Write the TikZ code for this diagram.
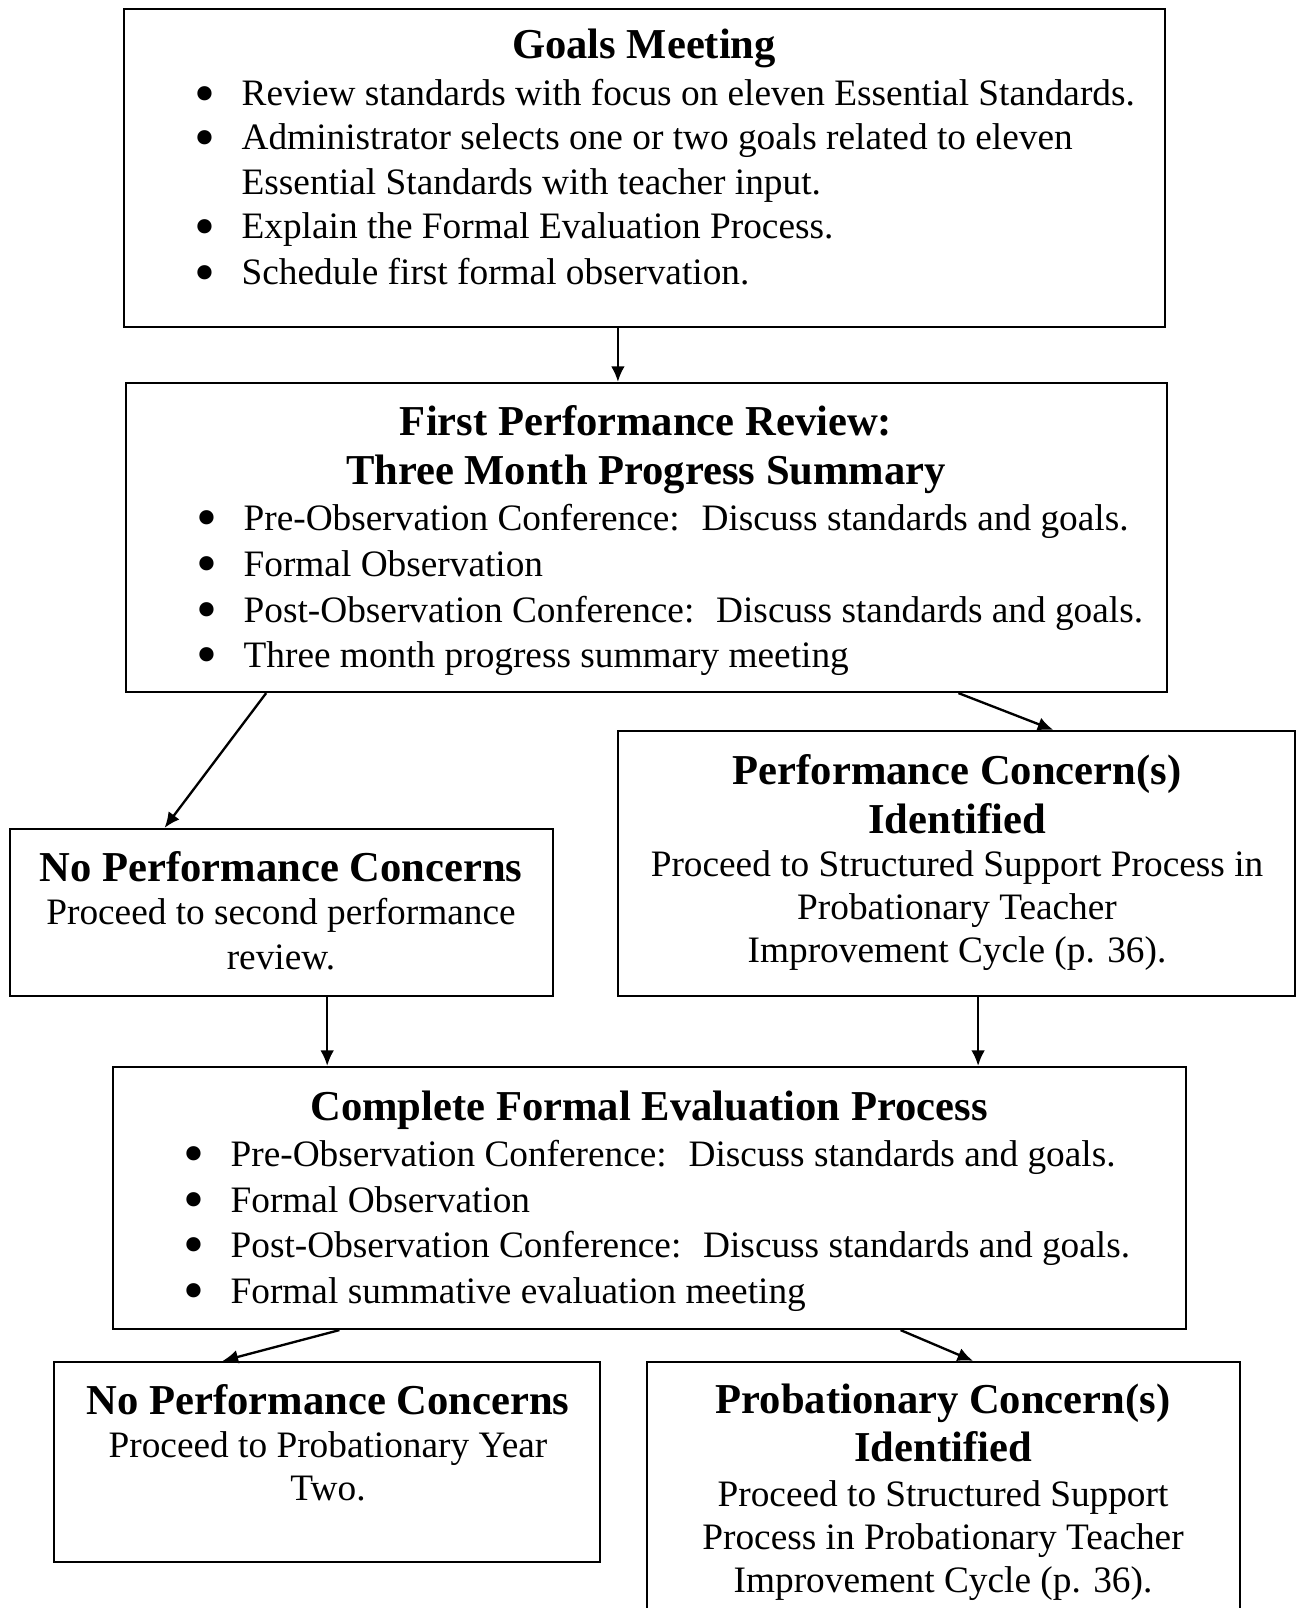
\documentclass[tikz,border=0pt]{standalone}
\usepackage{graphicx}
\usepackage{fontspec}
\setmainfont{Liberation Serif}
\usetikzlibrary{arrows.meta,calc,fit}
% large round list bullet, centred 11.8pt left of the item text
\newcommand\bul{\llap{\smash{\makebox[0pt]{\raisebox{-2.3pt}{\scalebox{1.6}{\textbullet}}}}\hspace{11.8pt}}}
\begin{document}
\begin{tikzpicture}[x=0.3216pt,y=-0.3216pt,
  box/.style={draw, line width=0.7pt, inner sep=0pt, rectangle},
  arr/.style={draw, line width=0.75pt, -{Latex[length=5pt,width=4.4pt]}},
  hd/.style={anchor=base, inner sep=0pt, font=\fontsize{13.7}{16}\selectfont\bfseries},
  txt/.style={anchor=base, inner sep=0pt, font=\fontsize{12}{14.4}\selectfont},
  itm/.style={anchor=base west, inner sep=0pt, font=\fontsize{12}{14.4}\selectfont}]
\useasboundingbox (0,0) rectangle (1297,1608);
\fill[white] (0,0) rectangle (1297,1608);
\clip (0,0) rectangle (1297,1608);

% Goals meeting
\node[box, fit={(124,9) (1165,327)}] (b1) {};
\node[hd] (b1h) at (644,59) {Goals Meeting};
\node[itm] (b1l1) at (241,106) {\bul Review standards with focus on eleven Essential Standards.};
\node[itm] (b1l2) at (241,150) {\bul Administrator selects one or two goals related to eleven};
\node[itm] (b1l3) at (241,195) {Essential Standards with teacher input.};
\node[itm] (b1l4) at (241,239) {\bul Explain the Formal Evaluation Process.};
\node[itm] (b1l5) at (241,285) {\bul Schedule first formal observation.};

% First performance review
\node[box, fit={(126,383) (1167,692)}] (b2) {};
\node[hd] (b2h1) at (646,435) {First Performance Review:};
\node[hd] (b2h2) at (646,484) {Three Month Progress Summary};
\node[itm] (b2l1) at (243,530) {\bul Pre-Observation Conference:~ Discuss standards and goals.};
\node[itm] (b2l2) at (243,576) {\bul Formal Observation};
\node[itm] (b2l3) at (243,622) {\bul Post-Observation Conference:~ Discuss standards and goals.};
\node[itm] (b2l4) at (243,667) {\bul Three month progress summary meeting};

% No concerns after first review
\node[box, fit={(10,829) (553,996)}] (b3) {};
\node[hd] (b3h) at (281,881) {No Performance Concerns};
\node[txt] (b3l1) at (281,924) {Proceed to second performance};
\node[txt] (b3l2) at (281,969) {review.};

% Concerns after first review
\node[box, fit={(618,731) (1295,996)}] (b4) {};
\node[hd] (b4h1) at (957,784) {Performance Concern(s)};
\node[hd] (b4h2) at (957,833) {Identified};
\node[txt] (b4l1) at (957,876) {Proceed to Structured Support Process in};
\node[txt] (b4l2) at (957,919) {Probationary Teacher};
\node[txt] (b4l3) at (957,962) {Improvement Cycle (p. 36).};

% Formal evaluation
\node[box, fit={(113,1067) (1186,1329)}] (b5) {};
\node[hd] (b5h) at (649,1120) {Complete Formal Evaluation Process};
\node[itm] (b5l1) at (230,1166) {\bul Pre-Observation Conference:~ Discuss standards and goals.};
\node[itm] (b5l2) at (230,1212) {\bul Formal Observation};
\node[itm] (b5l3) at (230,1257) {\bul Post-Observation Conference:~ Discuss standards and goals.};
\node[itm] (b5l4) at (230,1303) {\bul Formal summative evaluation meeting};

% Outcomes
\node[box, fit={(54,1362) (600,1562)}] (b6) {};
\node[hd] (b6h) at (328,1414) {No Performance Concerns};
\node[txt] (b6l1) at (328,1457) {Proceed to Probationary Year};
\node[txt] (b6l2) at (328,1500) {Two.};

\node[box, fit={(647,1362) (1240,1625)}] (b7) {};
\node[hd] (b7h1) at (943,1413) {Probationary Concern(s)};
\node[hd] (b7h2) at (943,1461) {Identified};
\node[txt] (b7l1) at (943,1506) {Proceed to Structured Support};
\node[txt] (b7l2) at (943,1549) {Process in Probationary Teacher};
\node[txt] (b7l3) at (943,1592) {Improvement Cycle (p. 36).};

% Connectors
\coordinate (a1) at ($(b1.south west)!0.4745!(b1.south east)$);
\draw[arr] (a1) -- (a1 |- b2.north);
\draw[arr] ($(b2.south west)!0.1354!(b2.south east)$) -- ($(b3.north west)!0.2855!(b3.north east)$);
\draw[arr] ($(b2.south west)!0.799!(b2.south east)$) -- ($(b4.north west)!0.6425!(b4.north east)$);
\coordinate (a2) at ($(b3.south west)!0.5838!(b3.south east)$);
\draw[arr] (a2) -- (a2 |- b5.north);
\coordinate (a3) at ($(b4.south west)!0.5318!(b4.south east)$);
\draw[arr] (a3) -- (a3 |- b5.north);
\draw[arr] ($(b5.south west)!0.2116!(b5.south east)$) -- ($(b6.north west)!0.3095!(b6.north east)$);
\draw[arr] ($(b5.south west)!0.7335!(b5.south east)$) -- ($(b7.north west)!0.5497!(b7.north east)$);
\end{tikzpicture}
\end{document}
